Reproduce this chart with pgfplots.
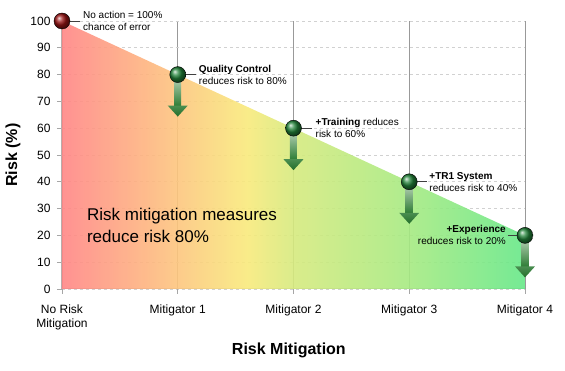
\documentclass[border=0pt]{standalone}
\usepackage{pgfplots}
\pgfplotsset{compat=1.18}
\usepackage{fontspec}
\setmainfont{Liberation Sans}
\usetikzlibrary{calc,shadings}
\definecolor{cR}{HTML}{FF8686}
\definecolor{cO}{HTML}{FDC67E}
\definecolor{cY}{HTML}{F8EA7C}
\definecolor{cYG}{HTML}{D6EA7E}
\definecolor{cLG}{HTML}{A6EA82}
\definecolor{cG}{HTML}{66E888}
\definecolor{aTop}{HTML}{A8C8A8}
\definecolor{aBot}{HTML}{2A7A32}
\definecolor{aHead}{HTML}{236E2A}
\definecolor{ballG}{HTML}{23853A}
\definecolor{ballR}{HTML}{9A1414}
\pgfdeclarehorizontalshading{riskgrad}{100bp}{color(0bp)=(cR); color(25bp)=(cR); color(37.5bp)=(cO); color(45bp)=(cY); color(50bp)=(cYG); color(62.5bp)=(cLG); color(75bp)=(cG); color(100bp)=(cG)}
\newcommand{\mitarrow}[2]{%
  \shade[top color=aTop, bottom color=aBot]
    ($(axis cs:#1,#2)+(-3.5pt,-6pt)$) rectangle ++(7pt,-26pt);
  \shade[top color=aBot!85!white, bottom color=aHead] ($(axis cs:#1,#2)+(-10pt,-31pt)$) -- ++(20pt,0) -- ++(-10pt,-11pt) -- cycle;}
\begin{document}
\begin{tikzpicture}
\begin{axis}[
  scale only axis, width=463pt, height=268pt,
  xmin=0, xmax=4, ymin=0, ymax=100,
  clip=false,
  axis x line=bottom, axis y line=left,
  axis line style={draw=black!30, line width=1pt, -},
  xtick={0,1,2,3,4},
  xticklabels={{No Risk\\Mitigation},{Mitigator 1},{Mitigator 2},{Mitigator 3},{Mitigator 4}},
  ytick={0,10,...,100},
  tick align=outside,
  major tick length=5pt,
  tick style={draw=black!35, line width=0.8pt},
  xticklabel style={align=center, font=\fontsize{12}{14}\selectfont, yshift=-7pt},
  yticklabel style={font=\fontsize{12}{14}\selectfont, xshift=-3pt},
  /pgf/number format/assume math mode=true,
  xmajorgrids, ymajorgrids,
  x grid style={draw=black!40, line width=0.6pt},
  y grid style={draw=black!18, dashed, line width=0.8pt},
  xlabel={Risk Mitigation},
  ylabel={Risk (\%)},
  xlabel style={font=\bfseries\fontsize{16}{18}\selectfont, at={(axis description cs:0.49,-0.228)}, anchor=center},
  ylabel style={font=\bfseries\fontsize{16}{18}\selectfont, at={(axis description cs:-0.106,0.5)}, anchor=center},
]
\addplot[draw=none, shade, shading=riskgrad, fill opacity=0.9] coordinates {(0,100) (1,80) (2,60) (3,40) (4,20)} \closedcycle;

\mitarrow{1}{80}
\mitarrow{2}{60}
\mitarrow{3}{40}
\mitarrow{4}{20}

\draw[black!75, line width=0.6pt] (axis cs:0,100) -- ++(18pt,0);
\draw[black!75, line width=0.6pt] (axis cs:1,80) -- ++(18pt,0);
\draw[black!75, line width=0.6pt] (axis cs:2,60) -- ++(19pt,0);
\draw[black!75, line width=0.6pt] (axis cs:3,40) -- ++(18pt,0);
\draw[black!75, line width=0.6pt] (axis cs:4,20) -- ++(-17pt,0);

\addplot[only marks, mark=ball, mark size=8pt, mark options={ball color=ballR}] coordinates {(0,100)};
\addplot[only marks, mark=ball, mark size=8pt, mark options={ball color=ballG}] coordinates {(1,80) (2,60) (3,40) (4,20)};

\node[anchor=west, align=left, font=\fontsize{10}{12.5}\selectfont, inner sep=0pt] at ($(axis cs:0,100)+(21pt,0)$) {No action = 100\%\\chance of error};
\node[anchor=west, align=left, font=\fontsize{10}{12}\selectfont, inner sep=0pt] at ($(axis cs:1,80)+(21pt,0)$) {\textbf{Quality Control}\\reduces risk to 80\%};
\node[anchor=west, align=left, font=\fontsize{10}{12}\selectfont, inner sep=0pt] at ($(axis cs:2,60)+(22pt,0)$) {\textbf{+Training} reduces\\risk to 60\%};
\node[anchor=west, align=left, font=\fontsize{10}{12}\selectfont, inner sep=0pt] at ($(axis cs:3,40)+(20pt,0)$) {\textbf{+TR1 System}\\reduces risk to 40\%};
\node[anchor=east, align=right, font=\fontsize{10}{12}\selectfont, inner sep=0pt] at ($(axis cs:4,20)+(-19pt,0)$) {\textbf{+Experience}\\reduces risk to 20\%};

\node[anchor=west, align=left, font=\fontsize{17}{22}\selectfont, inner sep=0pt] at (axis cs:0.215,23.8) {Risk mitigation measures\\reduce risk 80\%};
\end{axis}
\pgfresetboundingbox
\path (-62pt,-82pt) rectangle (503pt,289pt);
\end{tikzpicture}
\end{document}
